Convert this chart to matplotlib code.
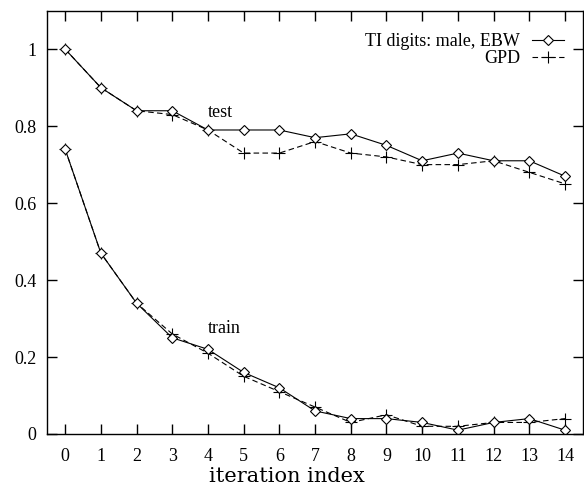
import numpy as np
import matplotlib
matplotlib.use("Agg")
import matplotlib.pyplot as plt

matplotlib.rcParams['font.family'] = ['Liberation Serif', 'DejaVu Serif']

iters = np.arange(15)

test_ebw = [1.0, 0.9, 0.84, 0.84, 0.79, 0.79, 0.79, 0.77, 0.78, 0.75, 0.71, 0.73, 0.71, 0.71, 0.67]
test_gpd = [1.0, 0.9, 0.84, 0.83, 0.79, 0.73, 0.73, 0.76, 0.73, 0.72, 0.70, 0.70, 0.71, 0.68, 0.65]
train_ebw = [0.74, 0.47, 0.34, 0.25, 0.22, 0.16, 0.12, 0.06, 0.04, 0.04, 0.03, 0.01, 0.03, 0.04, 0.01]
train_gpd = [0.74, 0.47, 0.34, 0.26, 0.21, 0.15, 0.11, 0.07, 0.03, 0.05, 0.02, 0.02, 0.03, 0.03, 0.04]

fig = plt.figure(figsize=(5.84, 4.86), dpi=100)
ax = fig.add_axes([0.081, 0.107, 0.917, 0.871])

# EBW: solid + diamonds, GPD: dashed + pluses
ebw_style = dict(color="black", linewidth=0.8, marker="D", markersize=5,
                 markerfacecolor="white", markeredgecolor="black", markeredgewidth=0.8)
gpd_style = dict(color="black", linewidth=0.8, linestyle=(0, (5, 3)), marker="+",
                 markersize=8, markeredgewidth=0.8)

ax.plot(iters, test_gpd, **gpd_style)
ax.plot(iters, test_ebw, label="TI digits: male, EBW", **ebw_style)
ax.plot(iters, train_gpd, label="GPD", **gpd_style)
ax.plot(iters, train_ebw, **ebw_style)

ax.text(4, 0.836, "test", ha="left", va="center", fontsize=13)
ax.text(4, 0.275, "train", ha="left", va="center", fontsize=13)

ax.set_xlim(-0.5, 14.5)
ax.set_ylim(0, 1.1)
ax.set_xticks(iters)
ax.set_yticks([0, 0.2, 0.4, 0.6, 0.8, 1])
ax.set_yticklabels(["0", "0.2", "0.4", "0.6", "0.8", "1"])
ax.tick_params(direction="in", top=True, right=True, length=7, width=1,
               labelsize=13)
ax.tick_params(axis="x", pad=10)
ax.tick_params(axis="y", pad=8)
for s in ax.spines.values():
    s.set_linewidth(1)

ax.set_xlabel("iteration index", fontsize=15, family=["DejaVu Serif"])
ax.xaxis.set_label_coords(0.448, -0.078)

handles, labels = ax.get_legend_handles_labels()
ax.legend(handles, labels, loc="upper right", bbox_to_anchor=(0.979, 0.964),
          frameon=False, markerfirst=False, fontsize=13, handlelength=1.8,
          borderaxespad=0, labelspacing=0.0, handletextpad=0.65)

plt.savefig("out.png", dpi=100)
plt.close()
